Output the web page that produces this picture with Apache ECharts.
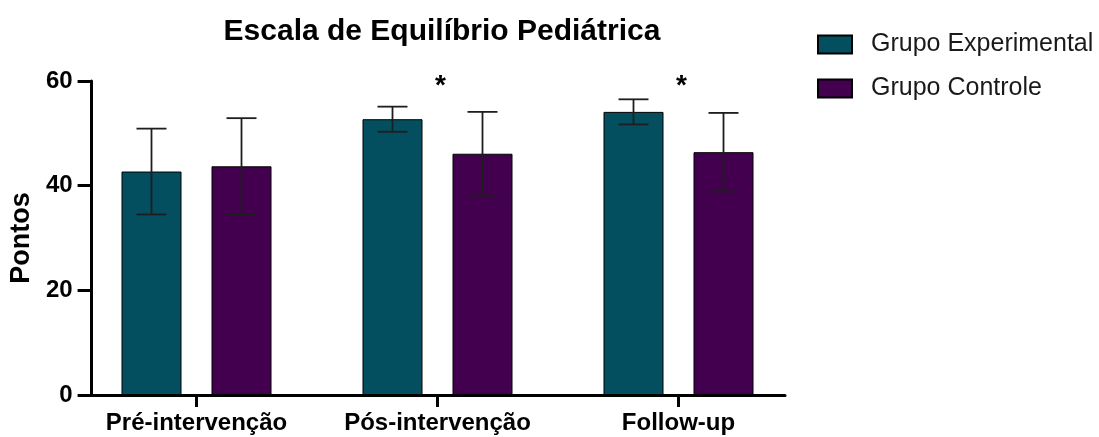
<!DOCTYPE html>
<html>
<head>
<meta charset="utf-8">
<script src="https://cdn.jsdelivr.net/npm/echarts@6/dist/echarts.min.js"></script>
<style>html,body{margin:0;padding:0;background:#fff}#c{width:1099px;height:437px}</style>
</head>
<body>
<div id="c"></div>
<script>
var categories = ['Pré-intervenção', 'Pós-intervenção', 'Follow-up'];
var seriesNames = ['Grupo Experimental', 'Grupo Controle'];
var meanExp = [42.7, 52.7, 54.1];
var sdExp = [8.2, 2.4, 2.4];
var meanCtrl = [43.7, 46.1, 46.4];
var sdCtrl = [9.2, 8.0, 7.5];
var yTicks = [0, 20, 40, 60];
var signifCats = [1, 2];
var signifY = 60.2;

var FONT = 'Liberation Sans, Arial, Helvetica, sans-serif';
var BAR_W = 60, BAR_GAP = 30, CAP = 30;
var colExp = '#044f5f', colCtrl = '#42004f';

function errSeries(means, sds, sign) {
  return {
    type: 'custom', xAxisIndex: 0, yAxisIndex: 0, z: 5,
    data: means.map(function (m, i) { return [i, m, sds[i]]; }),
    renderItem: function (params, api) {
      var i = api.value(0), m = api.value(1), s = api.value(2);
      var off = sign * (BAR_W + BAR_GAP) / 2;
      var top = api.coord([i, m + s]), bot = api.coord([i, m - s]);
      var x = top[0] + off;
      var st = { stroke: '#1e1e1e', lineWidth: 1.8 };
      return { type: 'group', children: [
        { type: 'line', shape: { x1: x, y1: top[1], x2: x, y2: bot[1] }, style: st },
        { type: 'line', shape: { x1: x - CAP / 2, y1: top[1], x2: x + CAP / 2, y2: top[1] }, style: st },
        { type: 'line', shape: { x1: x - CAP / 2, y1: bot[1], x2: x + CAP / 2, y2: bot[1] }, style: st }
      ]};
    }
  };
}

var chart = echarts.init(document.getElementById('c'), null, { renderer: 'canvas' });
chart.setOption({
  animation: false,
  backgroundColor: '#fff',
  title: {
    text: 'Escala de Equilíbrio Pediátrica', left: 437, top: 12, textAlign: 'center',
    textStyle: { fontFamily: FONT, fontSize: 30, fontWeight: 'bold', color: '#000' }
  },
  legend: {
    orient: 'vertical', left: 812, top: 27, itemWidth: 34, itemHeight: 18, itemGap: 19,
    icon: 'rect',
    data: seriesNames,
    textStyle: { fontFamily: FONT, fontSize: 25, lineHeight: 18, color: '#1a1a1a', padding: [0, 0, 0, 14] }
  },
  grid: [
    { left: 76, right: 300, top: 81, bottom: 42 },
    { left: 91, right: 314, top: 81, bottom: 42 }
  ],
  xAxis: [
    { type: 'category', gridIndex: 0, data: categories,
      axisLine: { show: false },
      axisTick: { show: true, alignWithLabel: true, length: 12, lineStyle: { color: '#000', width: 3 } },
      axisLabel: { interval: 0, hideOverlap: false, fontFamily: FONT, fontSize: 24, fontWeight: 'bold', color: '#000', margin: 16 } },
    { type: 'value', gridIndex: 1, min: 0, max: 1,
      axisLine: { show: true, onZero: false, lineStyle: { color: '#000', width: 3 } },
      axisTick: { show: false }, axisLabel: { show: false }, splitLine: { show: false } }
  ],
  yAxis: [
    { type: 'value', gridIndex: 0, min: 0, max: 60, show: false, splitLine: { show: false } },
    { type: 'value', gridIndex: 1, min: yTicks[0], max: yTicks[yTicks.length - 1], interval: 20,
      name: 'Pontos', nameLocation: 'middle', nameGap: 46,
      nameTextStyle: { fontFamily: FONT, fontSize: 27, fontWeight: 'bold', color: '#000' },
      axisLine: { show: true, lineStyle: { color: '#000', width: 3 } },
      axisTick: { show: true, length: 14, lineStyle: { color: '#000', width: 3 } },
      axisLabel: { fontFamily: FONT, fontSize: 24, fontWeight: 'bold', color: '#000', margin: 19 },
      splitLine: { show: false } }
  ],
  series: [
    { name: seriesNames[0], type: 'bar', xAxisIndex: 0, yAxisIndex: 0, data: meanExp,
      barWidth: BAR_W, barGap: '50%',
      itemStyle: { color: colExp, borderColor: '#000', borderWidth: 1 } },
    { name: seriesNames[1], type: 'bar', xAxisIndex: 0, yAxisIndex: 0, data: meanCtrl,
      barWidth: BAR_W, barGap: '50%',
      itemStyle: { color: colCtrl, borderColor: '#000', borderWidth: 1 } },
    errSeries(meanExp, sdExp, -1),
    errSeries(meanCtrl, sdCtrl, 1),
    { type: 'custom', xAxisIndex: 0, yAxisIndex: 0, z: 6, silent: true,
      data: signifCats.map(function (c) { return [c, signifY]; }),
      renderItem: function (params, api) {
        var p = api.coord([api.value(0), api.value(1)]);
        return { type: 'text', x: p[0] + 3, y: p[1] + 6,
          style: { text: '*', fontFamily: FONT, fontSize: 28, fontWeight: 'bold', fill: '#000',
            textAlign: 'center', textVerticalAlign: 'middle' } };
      } }
  ]
});
</script>
</body>
</html>
